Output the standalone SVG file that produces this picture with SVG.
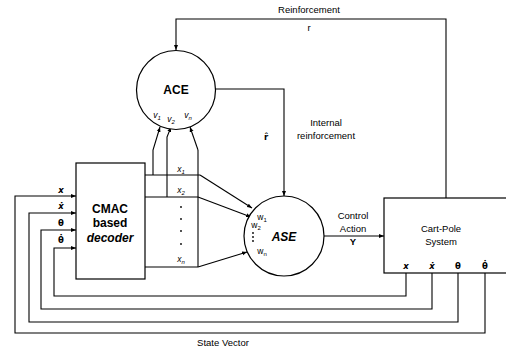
<svg xmlns="http://www.w3.org/2000/svg" width="506" height="348" viewBox="0 0 506 348">
<defs>
<marker id="ah" viewBox="0 0 10 10" refX="10" refY="5" markerWidth="5" markerHeight="5" orient="auto" markerUnits="userSpaceOnUse">
<path d="M0,1 L10,5 L0,9 z" fill="#000"/>
</marker>
<style>
.ln{fill:none;stroke:#000;stroke-width:1.1}
.ar{fill:none;stroke:#000;stroke-width:1.1;marker-end:url(#ah)}
.nd{fill:#fff;stroke:#000;stroke-width:1.2}
text{font-family:"Liberation Sans",Arial,sans-serif;fill:#000;text-anchor:middle}
.b{font-weight:bold;font-size:12px}
.t{font-size:9.5px}
.s{font-size:8.5px}
.d{font-family:"DejaVu Sans",sans-serif;font-size:8.5px;font-weight:bold}
.sub{font-size:6px}
</style>
</defs>
<rect width="506" height="348" fill="#fff"/>
<g id="connectors">
<polyline class="ar" points="446,198 446,19 176,19 176,50"/>
<polyline class="ar" points="215,89 284,89 284,196"/>
<line class="ar" x1="324" y1="236" x2="384" y2="236"/>
<line class="ln" x1="145" y1="175" x2="200" y2="175"/>
<line class="ln" x1="145" y1="197" x2="198" y2="197"/>
<line class="ln" x1="145" y1="267" x2="198" y2="267"/>
<line class="ln" x1="198" y1="150" x2="198" y2="267"/>
<line class="ar" x1="200" y1="175" x2="252" y2="208"/>
<line class="ar" x1="198" y1="197" x2="251" y2="217"/>
<line class="ar" x1="198" y1="267" x2="247" y2="252"/>
<polyline class="ar" points="153,175 153,150 160,127"/>
<polyline class="ar" points="167,197 167,137 171,127"/>
<polyline class="ar" points="198,150 190,127"/>
<polyline class="ar" points="406,273 406,296 54,296 54,248 76,248"/>
<polyline class="ar" points="432,273 432,309 41,309 41,230 76,230"/>
<polyline class="ar" points="458,273 458,322 29,322 29,213 76,213"/>
<polyline class="ar" points="485,273 485,333 15,333 15,196 76,196"/>
</g>
<g id="ace">
<circle class="nd" cx="176" cy="90" r="39.5"/>
<text class="b" x="176" y="94">ACE</text>
<text class="s" x="157" y="118" font-style="italic">v<tspan class="sub" dy="2">1</tspan></text>
<text class="s" x="171" y="122" font-style="italic">v<tspan class="sub" dy="2">2</tspan></text>
<text class="s" x="188" y="118" font-style="italic">v<tspan class="sub" dy="2">n</tspan></text>
</g>
<g id="cmac">
<rect class="nd" x="76" y="163" width="69" height="116"/>
<text class="b" x="110" y="213" font-size="11">CMAC</text>
<text class="b" x="110" y="227" font-size="11">based</text>
<text class="b" x="110" y="242" font-size="11" font-style="italic">decoder</text>
</g>
<g id="ase">
<circle class="nd" cx="284" cy="236" r="40"/>
<text class="b" x="284" y="241" font-style="italic">ASE</text>
<text class="s" x="262" y="220">w<tspan class="sub" dy="2">1</tspan></text>
<text class="s" x="256" y="228">w<tspan class="sub" dy="2">2</tspan></text>
<circle cx="253" cy="233" r="0.9"/>
<circle cx="253" cy="237" r="0.9"/>
<circle cx="253" cy="241" r="0.9"/>
<text class="s" x="262" y="254">w<tspan class="sub" dy="2">n</tspan></text>
</g>
<g id="cartpole">
<rect class="nd" x="384" y="198" width="130" height="75"/>
<text class="t" x="441" y="232">Cart-Pole</text>
<text class="t" x="441" y="245">System</text>
<text class="d" x="406" y="269" font-style="italic">x</text>
<text class="d" x="432" y="269" font-style="italic">ẋ</text>
<text class="d" x="458" y="269">θ</text>
<text class="d" x="485" y="269">θ̇</text>
</g>
<g id="labels">
<text class="t" x="309" y="13">Reinforcement</text>
<text class="t" x="309" y="31">r</text>
<text class="t" x="326" y="126">Internal</text>
<text class="t" x="326" y="139">reinforcement</text>
<text class="d" x="266" y="140" font-size="9.5">r̂</text>
<text class="t" x="353" y="219">Control</text>
<text class="t" x="353" y="232">Action</text>
<text class="t" x="353" y="245" font-weight="bold">Y</text>
<text class="s" x="181" y="172" font-style="italic">x<tspan class="sub" dy="2">1</tspan></text>
<text class="s" x="181" y="193" font-style="italic">x<tspan class="sub" dy="2">2</tspan></text>
<text class="s" x="181" y="262" font-style="italic">x<tspan class="sub" dy="2">n</tspan></text>
<circle cx="181" cy="207" r="0.9"/>
<circle cx="181" cy="219" r="0.9"/>
<circle cx="181" cy="231" r="0.9"/>
<circle cx="181" cy="244" r="0.9"/>
<text class="d" x="61" y="193" font-style="italic">x</text>
<text class="d" x="61" y="209" font-style="italic">ẋ</text>
<text class="d" x="61" y="226">θ</text>
<text class="d" x="61" y="243">θ̇</text>
<text class="t" x="223" y="346">State Vector</text>
</g>
</svg>
